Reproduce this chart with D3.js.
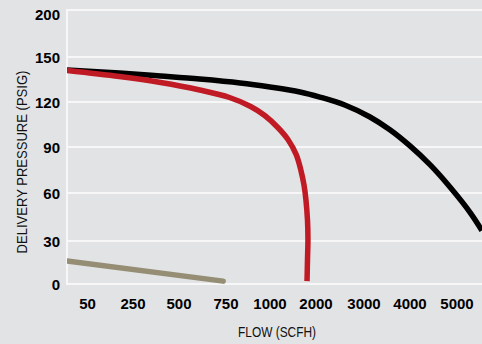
<!DOCTYPE html>
<html>
<head>
<meta charset="utf-8">
<script src="https://cdn.jsdelivr.net/npm/d3@7"></script>
<style>
html,body{margin:0;padding:0;background:#e2e3e5;}
svg{display:block;}
</style>
</head>
<body>
<svg id="chart" width="482" height="344"></svg>
<script>
// ---- data ----
const flowTicks = [50, 250, 500, 750, 1000, 2000, 3000, 4000, 5000];
const pressureTicks = [0, 30, 60, 90, 120, 150, 200];

const blackFlow = [0, 190, 400, 610, 830, 1000, 1650, 2080, 2600, 3130, 3570, 4000, 4430, 4850, 5280, 5530];
const blackPsi  = [141.3, 139.3, 137.3, 135.3, 132.7, 130, 126.7, 123.3, 118, 110, 101.3, 90.7, 78.3, 63.9, 47.8, 36.6];

const redFlow = [0, 190, 400, 610, 770, 890, 970, 1170, 1390, 1570, 1670, 1740, 1780, 1815, 1825, 1815, 1805];
const redPsi  = [141, 137, 133, 128, 123, 117, 111, 103, 95, 85, 75, 65, 56, 43, 31, 17, 2];

const tanFlow = [0, 735];
const tanPsi  = [16, 2];

// ---- layout ----
const W = 482, H = 344;
const left = 67, right = 482;
const svg = d3.select("#chart");

// piecewise scales (axes in the original are non-uniform)
const x = d3.scaleLinear()
  .domain([0, 50, 250, 500, 750, 1000, 2000, 3000, 4000, 5000])
  .range([67, 87.5, 133, 179, 226, 270, 316, 364, 410, 457]);
const y = d3.scaleLinear()
  .domain([0, 30, 60, 90, 120, 150, 200])
  .range([284, 241, 193, 147, 102, 57, 10]);

// background
svg.append("rect").attr("width", W).attr("height", H).attr("fill", "#e2e3e5");

// gridlines
svg.append("g").selectAll("line").data(pressureTicks).join("line")
  .attr("x1", left).attr("x2", right)
  .attr("y1", d => y(d)).attr("y2", d => y(d))
  .attr("stroke", "#f7f7f7").attr("stroke-width", 2);
svg.append("line")
  .attr("x1", left).attr("x2", left)
  .attr("y1", y(200) - 1).attr("y2", y(0) + 1)
  .attr("stroke", "#f7f7f7").attr("stroke-width", 2);

const tickFont = "'Liberation Sans', Arial, sans-serif";

// y tick labels
svg.append("g").selectAll("text").data(pressureTicks).join("text")
  .attr("x", 60)
  .attr("y", d => Math.max(y(d) + 1, 15))
  .attr("dy", "0.36em")
  .attr("text-anchor", "end")
  .attr("font-family", tickFont)
  .attr("font-weight", "bold")
  .attr("font-size", 15)
  .attr("fill", "#000")
  .text(d => d);

// x tick labels
svg.append("g").selectAll("text").data(flowTicks).join("text")
  .attr("x", d => x(d))
  .attr("y", 309)
  .attr("text-anchor", "middle")
  .attr("font-family", tickFont)
  .attr("font-weight", "bold")
  .attr("font-size", 15)
  .attr("fill", "#000")
  .text(d => d);

// axis titles (condensed look)
svg.append("text")
  .attr("transform", "translate(277,337) scale(0.85,1)")
  .attr("text-anchor", "middle")
  .attr("font-family", tickFont)
  .attr("font-size", 14)
  .attr("fill", "#111")
  .text("FLOW (SCFH)");

svg.append("text")
  .attr("transform", "translate(27,162) rotate(-90) scale(0.87,1)")
  .attr("text-anchor", "middle")
  .attr("font-family", tickFont)
  .attr("font-size", 15)
  .attr("fill", "#111")
  .text("DELIVERY PRESSURE (PSIG)");

// curves
svg.append("clipPath").attr("id", "plotclip")
  .append("rect").attr("x", left).attr("y", 0).attr("width", right - left).attr("height", H);
const plot = svg.append("g").attr("clip-path", "url(#plotclip)");

const smooth = d3.line().x(d => x(d[0])).y(d => y(d[1])).curve(d3.curveCatmullRom.alpha(0.5));

plot.append("path")
  .datum(d3.zip(blackFlow, blackPsi))
  .attr("d", smooth)
  .attr("fill", "none").attr("stroke", "#000").attr("stroke-width", 5.5);

plot.append("path")
  .datum(d3.zip(redFlow, redPsi))
  .attr("d", smooth)
  .attr("fill", "none").attr("stroke", "#c01a24").attr("stroke-width", 5.5);

plot.append("path")
  .datum(d3.zip(tanFlow, tanPsi))
  .attr("d", d3.line().x(d => x(d[0])).y(d => y(d[1])))
  .attr("fill", "none").attr("stroke", "#958d74").attr("stroke-width", 5.5)
  .attr("stroke-linecap", "round");
</script>
</body>
</html>
